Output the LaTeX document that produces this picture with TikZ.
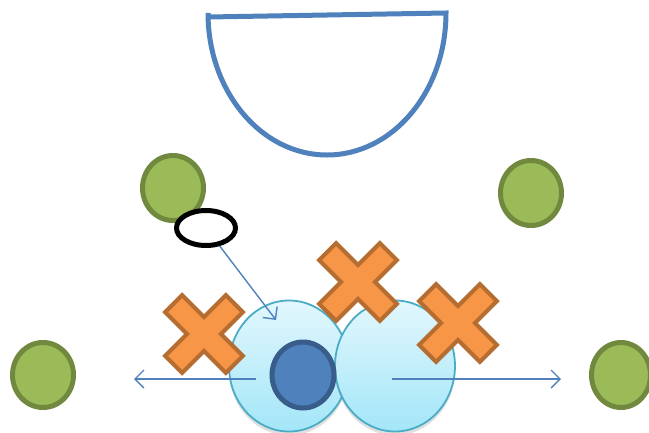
\documentclass[tikz,border=0pt]{standalone}
\usetikzlibrary{shapes.geometric,shadows,arrows.meta}
\definecolor{blueline}{HTML}{4F81BD}
\definecolor{bluedark}{HTML}{385D8A}
\definecolor{greenfill}{HTML}{9BBB59}
\definecolor{greenline}{HTML}{71893F}
\definecolor{orangefill}{HTML}{F79646}
\definecolor{orangeline}{HTML}{B66D31}
\definecolor{celltop}{HTML}{E2F7FD}
\definecolor{cellbot}{HTML}{A3E6F8}
\definecolor{cellline}{HTML}{4BACC6}
\tikzset{
  greendot/.style={ellipse, draw=greenline, fill=greenfill, line width=5pt, minimum width=61pt, minimum height=65pt, inner sep=0pt},
  cellbody/.style={ellipse, draw=cellline, line width=1.8pt, top color=celltop, bottom color=cellbot, minimum width=120pt, minimum height=131pt, inner sep=0pt, drop shadow={opacity=0.25, shadow xshift=0pt, shadow yshift=-4pt}},
  nucleus/.style={ellipse, draw=bluedark, fill=blueline, line width=5pt, minimum width=62pt, minimum height=66pt, inner sep=0pt},
  ring/.style={ellipse, draw=black, fill=white, line width=5pt, minimum width=59pt, minimum height=35pt, inner sep=0pt},
  thinarrow/.style={draw=blueline, line width=1.4pt, -{Straight Barb[length=9pt, width=18pt]}},
  crossshape/.style={draw=orangeline, fill=orangefill, line width=4pt, line join=miter}
}
\newcommand{\xcross}[2]{%
  \begin{scope}[shift={(#1,#2)}, rotate=45]
    \draw[crossshape] (12,12) -- (43,12) -- (43,-12) -- (12,-12) -- (12,-43) -- (-12,-43) -- (-12,-12) -- (-43,-12) -- (-43,12) -- (-12,12) -- (-12,43) -- (12,43) -- cycle;
  \end{scope}}
\begin{document}
\begin{tikzpicture}[x=1pt,y=-1pt]
\useasboundingbox (0,0) rectangle (649,432);
% bowl
\draw[blueline, line width=5pt, line join=miter] (208,17) -- (446,13) arc[start angle=0, end angle=180, x radius=119, y radius=142] -- cycle;
% green dots
\node[greendot] (g1) at (173,188) {};
\node[greendot] (g2) at (531,193) {};
\node[greendot] (g3) at (43,375) {};
\node[greendot, minimum width=59pt] (g4) at (621,375) {};
% cells
\node[cellbody] (c1) at (289,366) {};
\node[cellbody] (c2) at (395,366) {};
% nucleus
\node[nucleus] (n) at (303,375) {};
% ring and arrow
\node[ring] (r) at (206,228) {};
\coordinate (rt) at (276,320);
\draw[thinarrow] (r) -- (rt);
% horizontal arrows
\coordinate (la) at (256,379);
\coordinate (lb) at (134,379);
\coordinate (ra) at (392,379);
\coordinate (rb) at (561,379);
\draw[thinarrow] (la) -- (lb);
\draw[thinarrow] (ra) -- (rb);
% crosses
\xcross{204}{334}
\xcross{358}{282}
\xcross{458}{323}
\end{tikzpicture}
\end{document}
